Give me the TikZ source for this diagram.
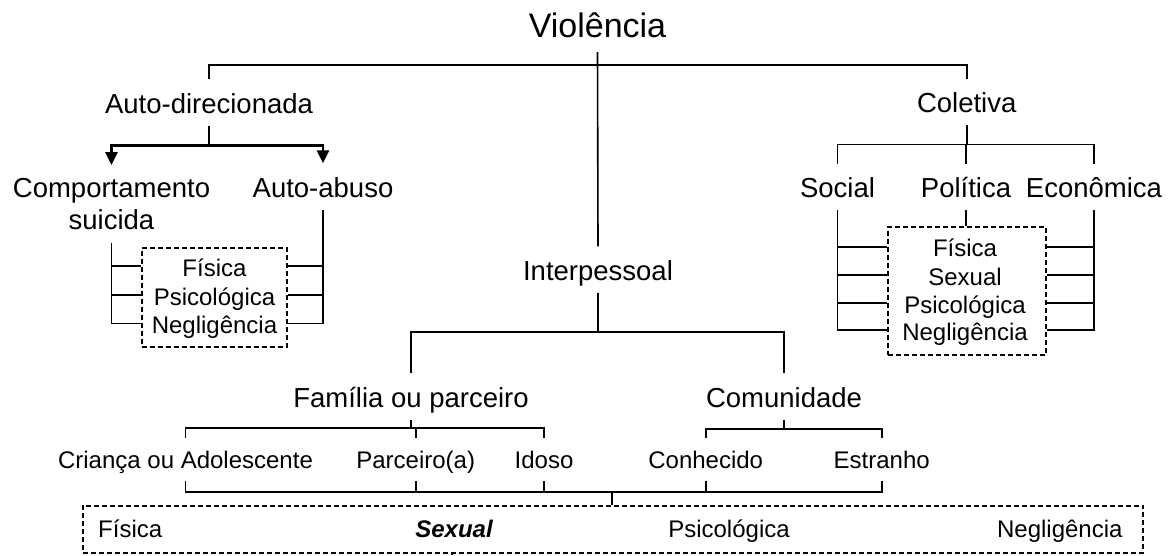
\documentclass[tikz,border=0pt]{standalone}
\usepackage{fontspec}
\setmainfont{Liberation Sans}
\usetikzlibrary{arrows.meta}
\tikzset{
  toplbl/.style={font=\fontsize{34}{40}\selectfont, anchor=base, text height=26pt, text depth=9pt, inner ysep=6pt},
  lvl/.style={font=\fontsize{27.5}{32}\selectfont, anchor=base, text height=27.5pt, text depth=6.5pt, inner ysep=6pt},
  sml/.style={font=\fontsize{24}{28}\selectfont, anchor=base, text height=24pt, text depth=6.5pt, inner ysep=6pt},
  boxitem/.style={font=\fontsize{24}{28}\selectfont, anchor=base, text height=20pt, text depth=0pt, inner sep=0pt},
  dashbox/.style={draw, line width=2.2pt, dash pattern=on 5pt off 3pt},
  wire/.style={line width=1.6pt},
  arr/.style={line width=2.8pt, -{Triangle[length=13pt,width=12pt]}}
}
\begin{document}
\begin{tikzpicture}[x=1pt,y=-1pt]
\useasboundingbox (0,0) rectangle (1172,555);
\node[toplbl] (viol) at (597.5,37) {Violência};
\node[lvl] (auto) at (209,113) {Auto-direcionada};
\node[lvl] (inter) at (598,280) {Interpessoal};
\node[lvl] (col) at (966.7,112.7) {Coletiva};
\node[font=\fontsize{27.5}{32}\selectfont, align=center, anchor=north, inner ysep=13pt] (comp) at (111.5,165) {Comportamento\\suicida};
\node[lvl] (abuso) at (323,197) {Auto-abuso};
\node[lvl] (soc) at (837.5,197.7) {Social};
\node[lvl] (pol) at (966,197.7) {Política};
\node[lvl] (eco) at (1094,197.7) {Econômica};
\node[lvl] (fam) at (411,407) {Família ou parceiro};
\node[lvl] (com) at (784,407) {Comunidade};
\node[sml] (crianca) at (185.5,468) {Criança ou Adolescente};
\node[sml] (parc) at (415.7,468) {Parceiro(a)};
\node[sml] (idoso) at (544,468) {Idoso};
\node[sml] (conh) at (705.7,468) {Conhecido};
\node[sml] (estr) at (881.7,468) {Estranho};
\node[dashbox, minimum width=145.6pt, minimum height=98.4pt] (lbox) at (214.5,297.5) {};
\node[boxitem] (lfis) at (214.5,276) {Física};
\node[boxitem] (lpsi) at (214.5,305) {Psicológica};
\node[boxitem] (lneg) at (214.5,333.3) {Negligência};
\node[dashbox, minimum width=157.7pt, minimum height=128.3pt] (rbox) at (967.2,290.9) {};
\node[boxitem] (rfis) at (965,256.7) {Física};
\node[boxitem] (rsex) at (965,285) {Sexual};
\node[boxitem] (rpsi) at (965,313) {Psicológica};
\node[boxitem] (rneg) at (965,340) {Negligência};
\node[dashbox, minimum width=1060.6pt, minimum height=47pt] (tipos) at (613,529.1) {};
\node[boxitem, anchor=base west] (bfis) at (98,537) {Física};
\node[boxitem] (bsex) at (454,537) {\bfseries\itshape Sexual};
\node[boxitem] (bpsi) at (729,537) {Psicológica};
\node[boxitem, anchor=base east] (bneg) at (1122.7,537) {Negligência};
\coordinate (topbus) at (598,65);
\coordinate (ibus) at (598,332);
\coordinate (fbus) at (411,428);
\coordinate (cbus) at (784,429);
\coordinate (kbus) at (966.7,144.5);
\coordinate (lowbus) at (611.7,492);
\coordinate (cut) at (452,555);
\draw[wire] (auto.north) |- (topbus) -| (col.north);
\draw[wire] (viol.south) -- (inter.north);
\draw[arr] (auto.south) -- ++(0,19.5) -| (comp.north);
\draw[arr] (auto.south) -- ++(0,19.5) -| (abuso.north);
\draw[wire] (comp.south) |- (lbox.west |- lneg);
\draw[wire] (abuso.south) |- (lbox.east |- lneg);
\foreach \n in {lfis,lpsi} {
\draw[wire] (comp.south |- \n) -- (lbox.west |- \n);
\draw[wire] (abuso.south |- \n) -- (lbox.east |- \n);}
\draw[wire] (col.south) -- (kbus);
\draw[wire] (soc.north) |- (kbus) -| (eco.north);
\draw[wire] (pol.north) -- (pol.north |- kbus);
\draw[wire] (pol.south) -- (pol.south |- rbox.north);
\draw[wire] (soc.south) |- (rbox.west |- rneg);
\draw[wire] (eco.south) |- (rbox.east |- rneg);
\foreach \n in {rfis,rsex,rpsi} {
\draw[wire] (soc.south |- \n) -- (rbox.west |- \n);
\draw[wire] (eco.south |- \n) -- (rbox.east |- \n);}
\draw[wire] (inter.south) -- (ibus);
\draw[wire] (fam.north) |- (ibus) -| (com.north);
\draw[wire] (fam.south) -- (fbus);
\draw[wire] (crianca.north) |- (fbus) -| (idoso.north);
\draw[wire] (parc.north) -- (parc.north |- fbus);
\draw[wire] (com.south) -- (cbus);
\draw[wire] (conh.north) |- (cbus) -| (estr.north);
\draw[wire] (crianca.south) |- (lowbus) -| (estr.south);
\foreach \n in {parc,idoso,conh} {
\draw[wire] (\n.south) -- (\n.south |- lowbus);}
\draw[wire] (lowbus) -- (lowbus |- tipos.north);
\draw[line width=2pt] (cut |- tipos.south) -- (cut);
\end{tikzpicture}
\end{document}
